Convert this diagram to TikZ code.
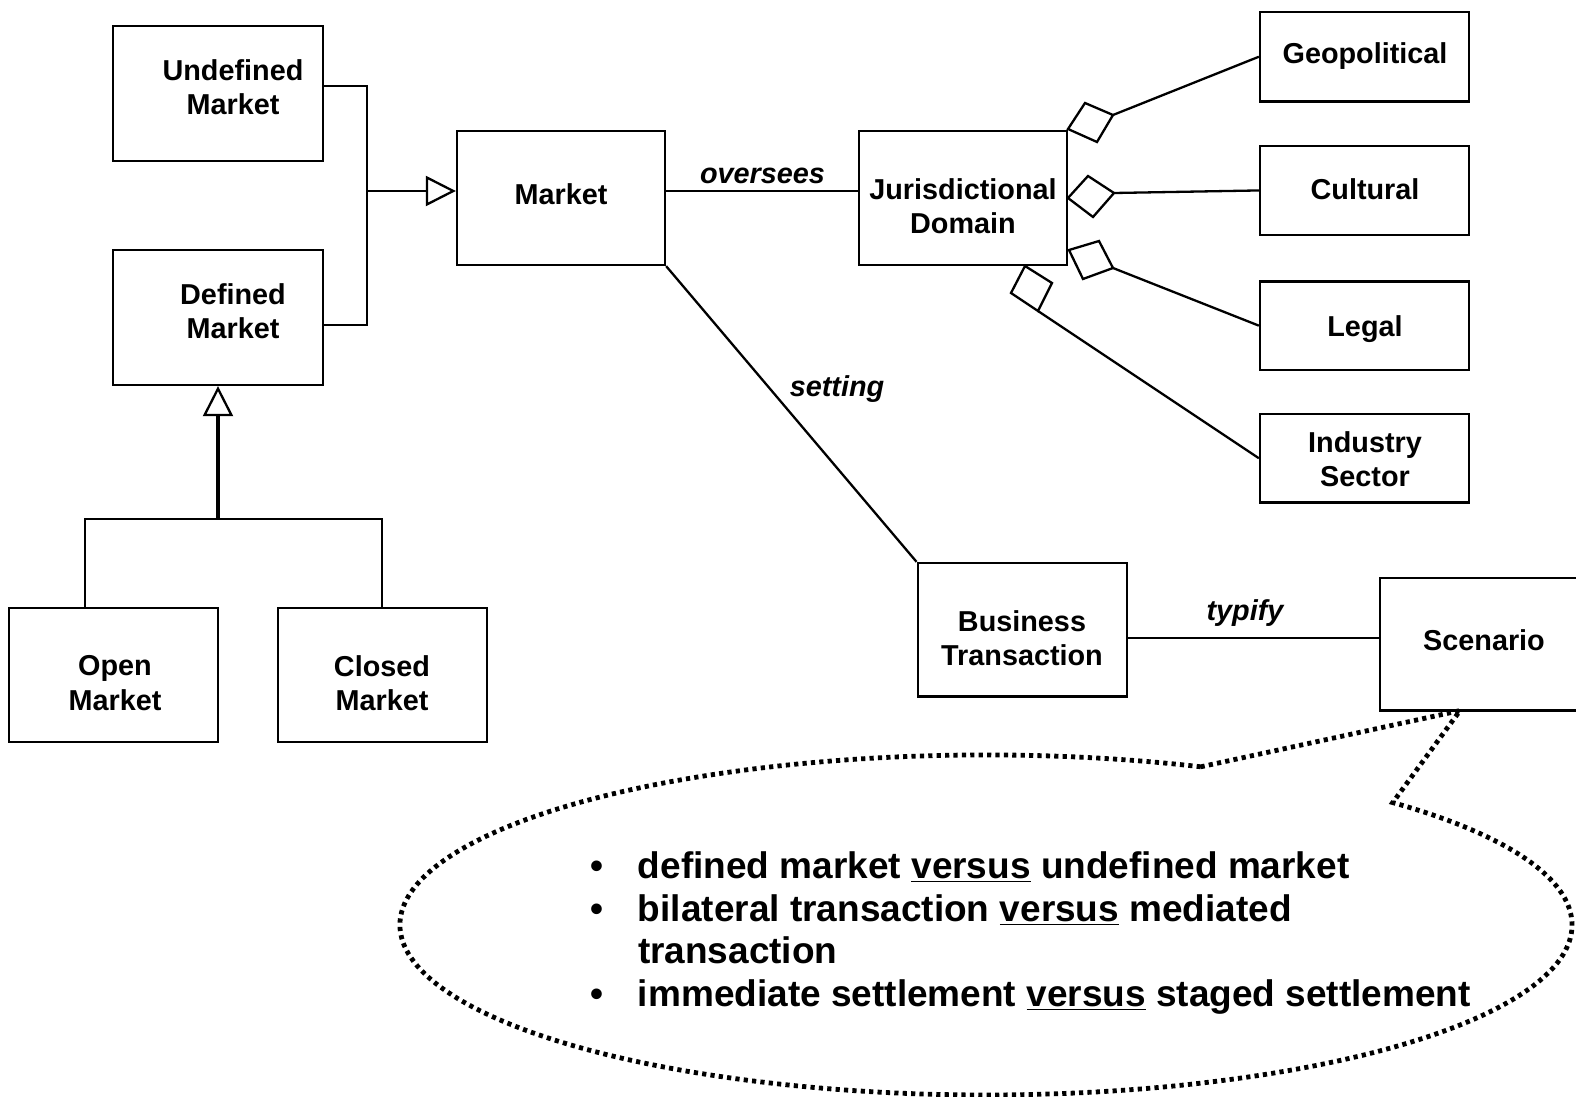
\documentclass[tikz,border=0pt]{standalone}
\usepackage{fontspec}
\setmainfont{Liberation Sans}
\usetikzlibrary{arrows.meta,fit}
\begin{document}
\begin{tikzpicture}[x=0.5pt,y=-0.5pt,
  line width=1.15pt,
  box/.style={draw, inner sep=0pt, line width=1.15pt},
  lbl/.style={font=\fontsize{14.4}{17.1}\selectfont\bfseries, align=center, inner sep=0pt},
  role/.style={font=\fontsize{14.4}{17.1}\selectfont\bfseries\itshape, inner sep=0pt, anchor=base},
  gen/.style={-{Triangle[open,length=15pt,width=15pt]}},
  trunk/.style={line width=1.9pt},
  agg/.style={draw, fill=white, line join=miter},
  callout/.style={line width=2.4pt, dash pattern=on 2.1pt off 2.1pt}]
\useasboundingbox (0,0) rectangle (1576,1097);

% ---------- classes ----------
\node[box, fit={(113,26) (323,161)}] (um) {};
\node[lbl] (umt) at (233,87) {Undefined\\Market};
\node[box, fit={(113,250) (323,385)}] (dm) {};
\node[lbl] (dmt) at (233,311) {Defined\\Market};
\node[box, fit={(457,131) (665,265)}] (mk) {};
\node[lbl] (mkt) at (561,194) {Market};
\node[box, fit={(859,131) (1067,265)}] (jd) {};
\node[lbl] (jdt) at (963,206) {Jurisdictional\\Domain};
\node[box, fit={(1260,12) (1469,101.5)}] (geo) {};
\node[lbl] (geot) at (1365,56) {Geopolitical};
\node[box, fit={(1260,145.7) (1469,235.2)}] (cul) {};
\node[lbl] (cult) at (1365,189) {Cultural};
\node[box, fit={(1260,281.4) (1469,369.9)}] (leg) {};
\node[lbl] (legt) at (1365,329) {Legal};
\node[box, fit={(1260,414) (1469,502.5)}] (ind) {};
\node[lbl] (indt) at (1365,459) {Industry\\Sector};
\node[box, fit={(917.7,563) (1126.7,696.5)}] (bt) {};
\node[lbl] (btt) at (1022,638) {Business\\Transaction};
\node[box, fit={(1380,578) (1589,710.6)}] (sc) {};
\node[lbl] (sct) at (1484,640.5) {Scenario};
\node[box, fit={(9.3,607.7) (218.3,741.8)}] (om) {};
\node[lbl] (omt) at (115,683) {Open\\Market};
\node[box, fit={(277.7,607.7) (487.3,741.8)}] (cm) {};
\node[lbl] (cmt) at (382,683) {Closed\\Market};

% ---------- generalisation: Undefined / Defined -> Market ----------
\coordinate (ju) at (367,86);
\coordinate (jl) at (367,325);
\coordinate (jm) at (367,191);
\draw (ju -| um.east) -- (ju) -- (jl) -- (jl -| dm.east);
\draw[gen] (jm) -- (jm -| mk.west);

% ---------- generalisation: Open / Closed -> Defined ----------
\coordinate (t0) at (218,519);
\coordinate (t1) at (85,519);
\coordinate (t2) at (382,519);
\draw (t1 |- om.north) -- (t1) -- (t2) -- (t2 |- cm.north);
\draw[gen] (t0) -- (dm.south);
\draw[trunk, shorten >=15pt] (t0) -- (dm.south);

% ---------- associations ----------
\coordinate (ov) at (0,191);
\draw (mk.east |- ov) -- (jd.west |- ov);
\node[role] (ovl) at (762.5,183.3) {oversees};
\draw (mk.south east) -- (bt.north west);
\node[role] (stl) at (837,396) {setting};
\coordinate (ty) at (0,638);
\draw (bt.east |- ty) -- (sc.west |- ty);
\node[role] (tyl) at (1245,620.5) {typify};

% ---------- aggregations of the jurisdictional domain ----------
\coordinate (a1) at (1068,129);   \coordinate (b1) at (1085,103);
\coordinate (f1) at (1113,115);   \coordinate (c1) at (1097,142);
\coordinate (a2) at (1068,198);   \coordinate (b2) at (1088,176);
\coordinate (f2) at (1114,193);   \coordinate (c2) at (1093,217);
\coordinate (a3) at (1069,250);   \coordinate (b3) at (1099,241);
\coordinate (f3) at (1113,268);   \coordinate (c3) at (1083,279);
\coordinate (a4) at (1025,266);   \coordinate (b4) at (1052,283);
\coordinate (f4) at (1038,311);   \coordinate (c4) at (1011,293);
\draw (f1) -- (geo.west);
\draw (f2) -- (cul.west);
\draw (f3) -- (leg.west);
\draw (f4) -- (ind.west);
\path[agg] (a1) -- (b1) -- (f1) -- (c1) -- cycle;
\path[agg] (a2) -- (b2) -- (f2) -- (c2) -- cycle;
\path[agg] (a3) -- (b3) -- (f3) -- (c3) -- cycle;
\path[agg] (a4) -- (b4) -- (f4) -- (c4) -- cycle;

% ---------- note callout ----------
\coordinate (co) at (1200.8,766.8);
\coordinate (tip) at (1460,710.6);
\draw[callout] (co) arc[start angle=-68.5, end angle=-406.05, x radius=586, y radius=170]
  -- (tip) -- cycle;
\node[anchor=base west, inner sep=0pt, font=\fontsize{18.5}{21.4}\selectfont\bfseries] (notes)
  at (589.5,878.3) {\begin{tabular}[t]{@{}l@{\hspace{17.2pt}}l@{}}
\textbullet & defined market \underline{versus} undefined market\\
\textbullet & bilateral transaction \underline{versus} mediated\\
 & transaction\\
\textbullet & immediate settlement \underline{versus} staged settlement
\end{tabular}};
\end{tikzpicture}
\end{document}
